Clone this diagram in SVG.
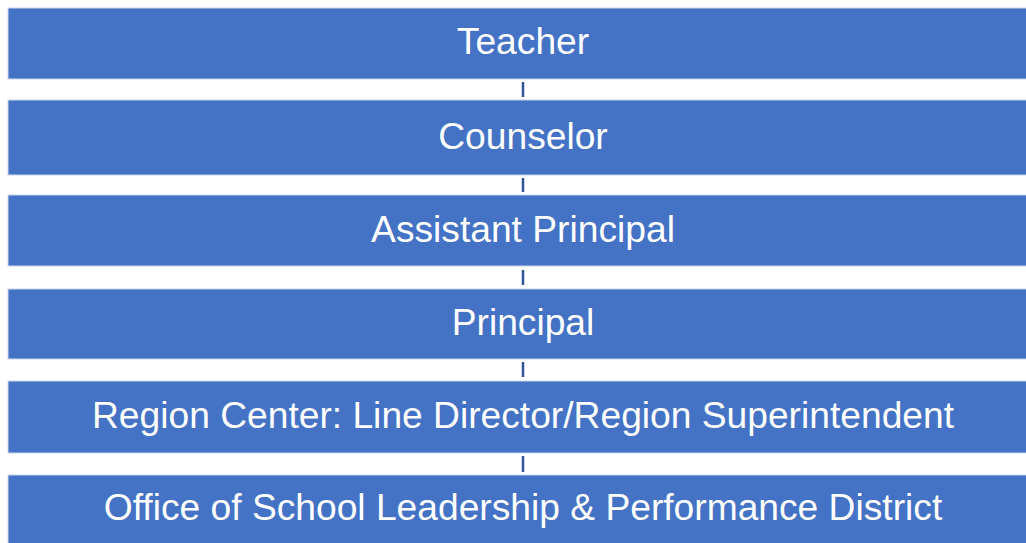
<svg xmlns="http://www.w3.org/2000/svg" width="1026" height="543" viewBox="0 0 1026 543">
<style>
.box{fill:#4472C4;stroke:#C9D5EC;stroke-width:1}
.lbl{font-family:"Liberation Sans",Arial,sans-serif;font-size:37.2px;fill:#FFFFFF;text-anchor:middle}
.con{stroke:#2F5597;stroke-width:2.5;fill:none}
</style>
<rect width="1026" height="543" fill="#FFFFFF"/>
<g id="connectors">
<line class="con" x1="523" y1="82" x2="523" y2="97"/>
<line class="con" x1="523" y1="178" x2="523" y2="192"/>
<line class="con" x1="523" y1="270" x2="523" y2="285"/>
<line class="con" x1="523" y1="362" x2="523" y2="377"/>
<line class="con" x1="523" y1="456" x2="523" y2="472"/>
</g>
<g id="n1"><rect class="box" x="8" y="8" width="1030" height="71"/><text class="lbl" x="523" y="54">Teacher</text></g>
<g id="n2"><rect class="box" x="8" y="100" width="1030" height="75"/><text class="lbl" x="523" y="149">Counselor</text></g>
<g id="n3"><rect class="box" x="8" y="195" width="1030" height="71"/><text class="lbl" x="523" y="242">Assistant Principal</text></g>
<g id="n4"><rect class="box" x="8" y="289" width="1030" height="70"/><text class="lbl" x="523" y="335">Principal</text></g>
<g id="n5"><rect class="box" x="8" y="381" width="1030" height="72"/><text class="lbl" x="523" y="428">Region Center: Line Director/Region Superintendent</text></g>
<g id="n6"><rect class="box" x="8" y="475" width="1030" height="80"/><text class="lbl" x="523" y="520">Office of School Leadership &amp; Performance District</text></g>
</svg>
